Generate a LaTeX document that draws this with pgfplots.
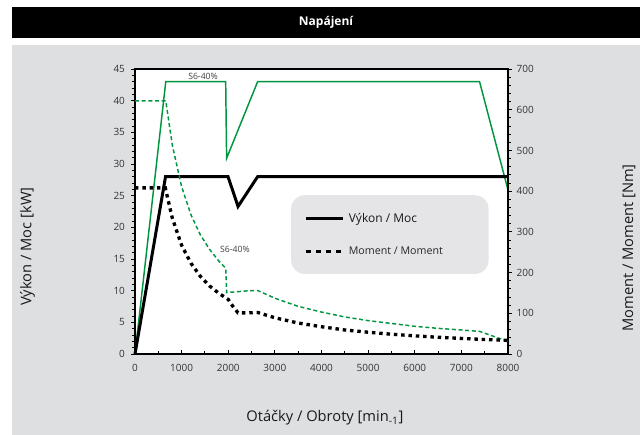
\documentclass[border=0pt]{standalone}
\usepackage{fontspec}
\setmainfont{Open Sans}
\usepackage{pgfplots}
\pgfplotsset{compat=1.18}
\definecolor{bggray}{RGB}{222,223,225}
\definecolor{leggray}{RGB}{229,229,231}
\definecolor{sgreen}{RGB}{0,150,64}
\definecolor{tickgray}{RGB}{51,51,51}
\pgfplotsset{
  myaxis/.style={
    scale only axis, width=279.75pt, height=213.75pt,
    at={(101.25pt,-265.5pt)}, anchor=south west,
    xmin=0, xmax=8000,
    axis line style={line width=1.1pt},
    major tick length=3pt, minor tick length=2pt,
    every tick/.style={black, line width=0.7pt},
    tick label style={font=\fontsize{7.5}{9}\selectfont, text=tickgray},
    /pgf/number format/assume math mode=true,
    /pgf/number format/1000 sep={},
    clip=false,
  }
}
\begin{document}
\begin{tikzpicture}
\useasboundingbox (0,0) rectangle (480pt,-326.25pt);
\fill[white] (0,0) rectangle (480pt,-326.25pt);
\fill[black] (9pt,-5.25pt) rectangle (480pt,-28.5pt);
\fill[bggray] (9pt,-33.75pt) rectangle (480pt,-326.25pt);
\node[text=white,font=\fontsize{9}{11}\selectfont\bfseries] at (244.5pt,-16.9pt) {Napájení};
\node[rotate=90,font=\fontsize{11}{13}\selectfont,text=black!90] at (20.6pt,-185pt) {Výkon / Moc [kW]};
\node[rotate=90,font=\fontsize{11}{13}\selectfont,text=black!90] at (471.75pt,-186pt) {Moment / Moment [Nm]};
\node[font=\fontsize{11}{13}\selectfont,text=black!90] at (243.75pt,-313.5pt) {Otáčky / Obroty [min\textsubscript{-1}]};

% power axis (left)
\begin{axis}[myaxis,
  ymin=0, ymax=45, ytick={0,5,...,45}, minor y tick num=4,
  xtick=\empty, ytick pos=left, tick align=outside,
  axis background/.style={fill=white},
  yticklabel style={xshift=-1pt}]
\addplot[sgreen, line width=1.1pt] coordinates {(0,0)(660,43)(1945,43)(1965,30.9)(2630,43)(7390,43)(8000,25.9)};
\addplot[black, line width=2.25pt] coordinates {(0,0)(655,28)(1995,28)(2210,23.3)(2630,28)(8000,28)};
\node[font=\fontsize{6.5}{8}\selectfont, text=black!75] at (axis cs:1459,43.9) {S6-40\%};
\node[font=\fontsize{6.5}{8}\selectfont, text=black!75] at (axis cs:2145,16.5) {S6-40\%};
\end{axis}

% torque axis (right)
\begin{axis}[myaxis,
  ymin=0, ymax=700, ytick={0,100,...,700}, minor y tick num=4,
  axis x line=none, axis y line*=right, tick align=outside,
  legend style={at={(axis description cs:0.418,0.558)}, anchor=north west,
    fill=leggray, draw=none, rounded corners=10pt,
    inner xsep=9.75pt, inner ysep=13.3pt, nodes={inner sep=0pt},
    row sep=16.75pt},
  legend cell align=left,
  legend image code/.code={\draw[#1] (0pt,0pt) -- (28pt,0pt);}]
\addlegendimage{black, line width=2.25pt}
\addlegendentry{\hspace*{3pt}\makebox[95pt][l]{\fontsize{9}{11}\selectfont\color{black!90}Výkon / Moc}}
\addlegendimage{black, line width=2.5pt, dash pattern=on 3.5pt off 4pt}
\addlegendentry{\hspace*{3pt}\makebox[95pt][l]{\fontsize{8}{10}\selectfont\color{black!85}Moment / Moment}}
\addplot[sgreen, line width=1.1pt, dash pattern=on 3pt off 2pt, forget plot] coordinates {
(0,622)(660,622)(800,513)(1000,411)(1200,342)(1400,293)(1600,257)(1800,228)(1945,211)(1965,151)
(2200,153)(2400,155)(2630,156)(3000,137)(3500,117)(4000,103)(4500,91)(5000,82)(5500,75)(6000,68)
(6500,63)(7000,59)(7390,55.6)(7700,43)(8000,31)};
\addplot[black, line width=2.5pt, dash pattern=on 2.6pt off 2.9pt, forget plot] coordinates {
(0,408)(650,408)(800,334)(1000,267)(1200,223)(1400,191)(1600,167)(1800,149)(2000,134)(2100,117)
(2210,101)(2400,101)(2630,102)(3000,89)(3500,76)(4000,67)(4500,59)(5000,53.5)(5500,48.6)(6000,44.6)
(6500,41.1)(7000,38.2)(7500,35.6)(8000,33.4)};
\end{axis}

% x ticks (inside)
\begin{axis}[myaxis,
  ymin=0, ymax=45, axis y line=none, axis x line*=bottom, tick align=inside,
  xtick={0,1000,...,8000}, minor x tick num=1,
  xticklabel style={yshift=-4pt}]
\addplot[draw=none] coordinates {(0,0)};
\end{axis}
\end{tikzpicture}
\end{document}
